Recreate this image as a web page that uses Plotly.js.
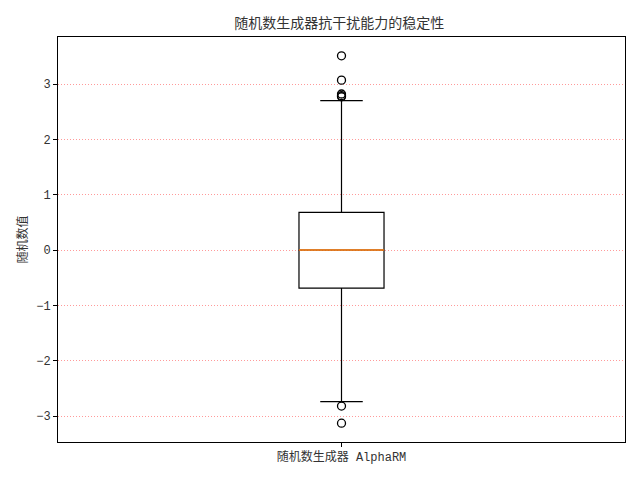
<!DOCTYPE html>
<html>
<head>
<meta charset="utf-8">
<script src="https://cdn.plot.ly/plotly-3.0.1.min.js"></script>
<style>html,body{margin:0;padding:0;background:#fff;}#chart{width:640px;height:480px;}</style>
</head>
<body>
<div id="chart"></div>
<script>
const categoryLabel = "随机数生成器 AlphaRM";
const q1 = -0.69;
const median = 0.0;
const q3 = 0.68;
const lowerWhisker = -2.74;
const upperWhisker = 2.70;
const outliers = [3.51, 3.07, 2.82, 2.79, 2.77, -2.82, -3.13];
const yTicks = [-3, -2, -1, 0, 1, 2, 3];
const yTickText = ["\u22123", "\u22122", "\u22121", "0", "1", "2", "3"];

const pos = 1;
const boxWidth = 0.15;
const FONT = "'Liberation Mono', 'Noto Sans CJK SC', monospace";

const traces = [
  {
    type: 'box',
    x: [pos],
    q1: [q1], median: [median], q3: [q3],
    lowerfence: [lowerWhisker], upperfence: [upperWhisker],
    width: boxWidth,
    whiskerwidth: 0.5,
    boxpoints: false,
    fillcolor: 'rgba(0,0,0,0)',
    line: {color: 'black', width: 1.2},
    hoverinfo: 'skip',
    showlegend: false
  },
  {
    type: 'scatter', mode: 'lines',
    x: [pos - boxWidth / 2, pos + boxWidth / 2],
    y: [median, median],
    line: {color: '#ff7f0e', width: 1.5},
    hoverinfo: 'skip', showlegend: false
  },
  {
    type: 'scatter', mode: 'markers',
    x: outliers.map(() => pos),
    y: outliers,
    marker: {symbol: 'circle-open', size: 8, color: 'black', line: {color: 'black', width: 1.3}},
    hoverinfo: 'skip', showlegend: false
  }
];

const layout = {
  width: 640, height: 480,
  margin: {l: 58, r: 15, t: 37, b: 38},
  paper_bgcolor: 'white', plot_bgcolor: 'white',
  font: {family: FONT, size: 10, color: 'black'},
  title: {text: '随机数生成器抗干扰能力的稳定性', font: {family: FONT, size: 14, color: '#333'}, x: 0.53, xanchor: 'center', y: 0.963, yanchor: 'top'},
  xaxis: {
    range: [0.5, 1.5],
    tickvals: [pos], ticktext: [categoryLabel],
    ticks: 'outside', ticklen: 4, tickwidth: 1, tickcolor: 'black',
    showline: true, mirror: true, linecolor: 'black', linewidth: 1,
    showgrid: false, zeroline: false,
    tickfont: {family: FONT, size: 12, color: '#333'}
  },
  yaxis: {
    range: [-3.47, 3.85],
    tickvals: yTicks, ticktext: yTickText,
    ticks: 'outside', ticklen: 4, tickwidth: 1, tickcolor: 'black',
    showline: true, mirror: true, linecolor: 'black', linewidth: 1,
    showgrid: true, gridcolor: '#ff9a9a', griddash: '1px,2px', gridwidth: 1,
    zeroline: false,
    tickfont: {family: FONT, size: 12, color: '#333'},
    title: {text: '随机数值', font: {family: FONT, size: 12, color: '#333'}, standoff: 5}
  }
};

Plotly.newPlot('chart', traces, layout, {displayModeBar: false, staticPlot: true});
</script>
</body>
</html>
